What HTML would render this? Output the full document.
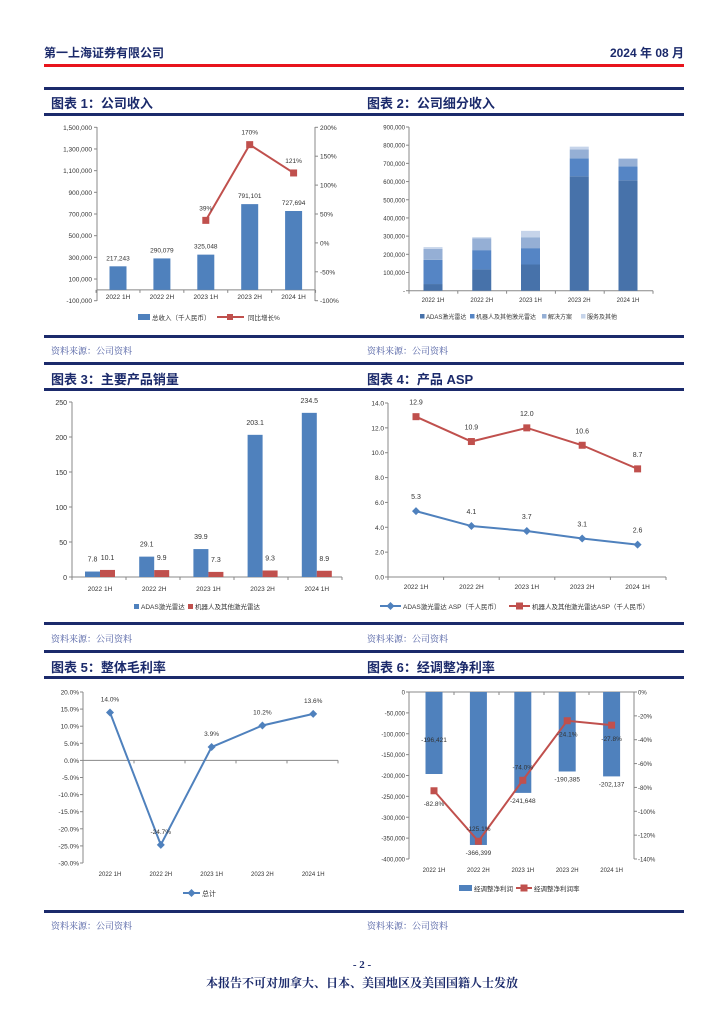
<!DOCTYPE html>
<html><head><meta charset="utf-8">
<style>
body{margin:0;background:#fff;}
#page{position:relative;width:724px;height:1024px;overflow:hidden;font-family:"Liberation Sans","Noto Sans CJK SC",sans-serif;}
.abs{position:absolute;}
.hline{position:absolute;left:44px;width:640px;height:3px;background:#1b2a6b;}
.title{position:absolute;font-size:13px;font-weight:bold;color:#1b2a6b;white-space:nowrap;}
.src{position:absolute;font-size:9px;color:#4a5aa0;font-family:"Liberation Serif","Noto Serif CJK SC",serif;}
svg text{font-family:"Liberation Sans","Noto Sans CJK SC",sans-serif;}
</style></head>
<body>
<div id="page">
<div class="abs" style="left:44px;top:44px;font-size:12px;font-weight:bold;color:#1b2a6b">第一上海证券有限公司</div>
<div class="abs" style="right:40px;top:44px;font-size:12px;font-weight:bold;color:#1b2a6b">2024 年 08 月</div>
<div class="abs" style="left:44px;top:64px;width:640px;height:3px;background:#e8141c"></div>

<div class="hline" style="top:87px"></div>
<div class="title" style="left:51px;top:93px">图表 1：公司收入</div>
<div class="title" style="left:367px;top:93px">图表 2：公司细分收入</div>
<div class="hline" style="top:113px"></div>
<div class="hline" style="top:335px"></div>
<div class="src" style="left:51px;top:344px">资料来源：公司资料</div>
<div class="src" style="left:367px;top:344px">资料来源：公司资料</div>

<div class="hline" style="top:362px"></div>
<div class="title" style="left:51px;top:369px">图表 3：主要产品销量</div>
<div class="title" style="left:367px;top:369px">图表 4：产品 ASP</div>
<div class="hline" style="top:388px"></div>
<div class="hline" style="top:622px"></div>
<div class="src" style="left:51px;top:632px">资料来源：公司资料</div>
<div class="src" style="left:367px;top:632px">资料来源：公司资料</div>

<div class="hline" style="top:650px"></div>
<div class="title" style="left:51px;top:657px">图表 5：整体毛利率</div>
<div class="title" style="left:367px;top:657px">图表 6：经调整净利率</div>
<div class="hline" style="top:676px"></div>
<div class="hline" style="top:910px"></div>
<div class="src" style="left:51px;top:919px">资料来源：公司资料</div>
<div class="src" style="left:367px;top:919px">资料来源：公司资料</div>

<div class="abs" style="left:0;width:724px;top:959px;text-align:center;font-size:11px;font-weight:bold;color:#1b2a6b;font-family:'Liberation Serif','Noto Serif CJK SC',serif">- 2 -</div>
<div class="abs" style="left:0;width:724px;top:974px;text-align:center;font-size:12px;font-weight:bold;color:#1b2a6b;font-family:'Liberation Serif','Noto Serif CJK SC',serif">本报告不可对加拿大、日本、美国地区及美国国籍人士发放</div>

<svg id="charts" class="abs" style="left:0;top:0" width="724" height="1024"></svg>
</div>

<script>
const cats = ['2022 1H','2022 2H','2023 1H','2023 2H','2024 1H'];
// chart 1
const revenue = [217243, 290079, 325048, 791101, 727694];
const revenueLabels = ['217,243','290,079','325,048','791,101','727,694'];
const revGrowth = [null, null, 39, 170, 121];
const c1LeftTicks = [-100000,100000,300000,500000,700000,900000,1100000,1300000,1500000];
const c1LeftTickLabels = ['-100,000','100,000','300,000','500,000','700,000','900,000','1,100,000','1,300,000','1,500,000'];
const c1RightTicks = [-100,-50,0,50,100,150,200];
// chart 2
const segAdas = [36600, 117000, 144000, 629000, 607000];
const segRobot = [133000, 106000, 90000, 99000, 77000];
const segSolution = [60000, 64000, 60000, 49000, 40000];
const segService = [10000, 7000, 35000, 15000, 4000];
const c2Ticks = [0,100000,200000,300000,400000,500000,600000,700000,800000,900000];
const c2TickLabels = ['-','100,000','200,000','300,000','400,000','500,000','600,000','700,000','800,000','900,000'];
// chart 3
const volAdas = [7.8, 29.1, 39.9, 203.1, 234.5];
const volRobot = [10.1, 9.9, 7.3, 9.3, 8.9];
const c3Ticks = [0,50,100,150,200,250];
// chart 4
const aspAdas = [5.3, 4.1, 3.7, 3.1, 2.6];
const aspRobot = [12.9, 10.9, 12.0, 10.6, 8.7];
const c4Ticks = [0,2,4,6,8,10,12,14];
// chart 5
const grossMargin = [14.0, -24.7, 3.9, 10.2, 13.6];
const c5Ticks = [-30,-25,-20,-15,-10,-5,0,5,10,15,20];
// chart 6
const adjProfit = [-196421, -366399, -241648, -190385, -202137];
const adjProfitLabels = ['-196,421','-366,399','-241,648','-190,385','-202,137'];
const adjMargin = [-82.8, -125.1, -74.0, -24.1, -27.8];
const c6LeftTicks = [0,-50000,-100000,-150000,-200000,-250000,-300000,-350000,-400000];
const c6RightTicks = [0,-20,-40,-60,-80,-100,-120,-140];

const NS = 'http://www.w3.org/2000/svg';
const svg = document.getElementById('charts');
function mk(tag, attrs, parent){
  const e = document.createElementNS(NS, tag);
  for (const k in attrs) e.setAttribute(k, attrs[k]);
  (parent || svg).appendChild(e);
  return e;
}
function txt(x, y, s, parent, size, anchor, fill){
  const t = mk('text', {x:x, y:y, 'font-size':size||7, 'text-anchor':anchor||'middle', fill:fill||'#333'}, parent);
  t.textContent = s;
  return t;
}
function scale(d0, d1, r0, r1){ return v => r0 + (v - d0) * (r1 - r0) / (d1 - d0); }
function fmtPct1(v){ return v.toFixed(1) + '%'; }
const BLUE = '#4f81bd', RED = '#c0504d', AXIS = '#888';

// ---------- Chart 1 ----------
(function(){
  const g = mk('g', {});
  
  
  const y = scale(-100000, 1500000, 300.7, 127.3);
  const yr = scale(-100, 200, 300.7, 127.3);
  const x = i => 118 + i * 43.9;
  const L = 97, R = 315;
  mk('line', {x1:L, y1:127, x2:L, y2:301, stroke:AXIS}, g);
  mk('line', {x1:R, y1:127, x2:R, y2:301, stroke:AXIS}, g);
  mk('line', {x1:L, y1:y(0), x2:R, y2:y(0), stroke:AXIS}, g);
  c1LeftTicks.forEach((t, i) => {
    mk('line', {x1:L-3, y1:y(t), x2:L, y2:y(t), stroke:AXIS}, g);
    const lab = txt(L-5, y(t)+2.5, c1LeftTickLabels[i], g, 6.5, 'end');
    
    
  });
  c1RightTicks.forEach(t => {
    mk('line', {x1:R, y1:yr(t), x2:R+3, y2:yr(t), stroke:AXIS}, g);
    const lab = txt(R+5, yr(t)+2.5, t + '%', g, 6.5, 'start');
    
    
  });
  for (let i = 0; i <= 5; i++) mk('line', {x1:x(i)-21.95, y1:y(0), x2:x(i)-21.95, y2:y(0)+3, stroke:AXIS}, g);
  revenue.forEach((v, i) => {
    const b = mk('rect', {x:x(i)-8.5, y:y(v), width:17, height:y(0)-y(v), fill:BLUE}, g);
    
    
    txt(x(i), y(v)-6, revenueLabels[i], g, 6.5);
    const cl = txt(x(i), 299, cats[i], g, 6.5);
    
    
  });
  let pts = [];
  revGrowth.forEach((v, i) => { if (v !== null) pts.push([x(i), yr(v), v]); });
  const pl = mk('polyline', {points:pts.map(p => p[0]+','+p[1]).join(' '), fill:'none', stroke:RED, 'stroke-width':2}, g);
  
  
  pts.forEach(p => {
    const m = mk('rect', {x:p[0]-3.5, y:p[1]-3.5, width:7, height:7, fill:RED}, g);
    
    
    txt(p[0], p[1]-10, p[2] + '%', g, 6.5);
  });
  const lg = mk('g', {}, g);
  
  
  mk('rect', {x:138, y:314, width:12, height:6, fill:BLUE}, lg);
  txt(152, 320, '总收入（千人民币）', lg, 6.5, 'start');
  mk('line', {x1:217, y1:317, x2:244, y2:317, stroke:RED, 'stroke-width':2}, lg);
  mk('rect', {x:227, y:314, width:6, height:6, fill:RED}, lg);
  txt(248, 320, '同比增长%', lg, 6.5, 'start');
})();

// ---------- Chart 2 ----------
(function(){
  const g = mk('g', {});
  
  
  const y = scale(0, 900000, 290.7, 127);
  const x = i => 433 + i * 48.75;
  const L = 409, R = 653;
  mk('line', {x1:L, y1:127, x2:L, y2:291, stroke:AXIS}, g);
  mk('line', {x1:L, y1:y(0), x2:R, y2:y(0), stroke:AXIS}, g);
  c2Ticks.forEach((t, i) => {
    mk('line', {x1:L-3, y1:y(t), x2:L, y2:y(t), stroke:AXIS}, g);
    const lab = txt(L-4, y(t)+2.5, c2TickLabels[i], g, 6, 'end');
    
    
  });
  for (let i = 0; i <= 5; i++) mk('line', {x1:L+i*48.8, y1:y(0), x2:L+i*48.8, y2:y(0)+3, stroke:AXIS}, g);
  const series = [segAdas, segRobot, segSolution, segService];
  const colors = ['#4772aa', '#5585c5', '#95afd5', '#c6d4ea'];
  const names = ['ADAS激光雷达', '机器人及其他激光雷达', '解决方案', '服务及其他'];
  cats.forEach((c, i) => {
    let base = 0;
    series.forEach((s, k) => {
      const r = mk('rect', {x:x(i)-9.5, y:y(base + s[i]), width:19, height:y(base)-y(base + s[i]), fill:colors[k]}, g);
      
      
      base += s[i];
    });
    const cl = txt(x(i), 302, c, g, 6);
    
    
  });
  const lg = mk('g', {}, g);
  
  
  const lx = [420, 470, 542, 581];
  names.forEach((n, k) => {
    mk('rect', {x:lx[k], y:314, width:4.5, height:4.5, fill:colors[k]}, lg);
    txt(lx[k]+6, 319, n, lg, 6, 'start');
  });
})();

// ---------- Chart 3 ----------
(function(){
  const g = mk('g', {});
  
  
  const y = scale(0, 250, 577, 402);
  const x = i => 100 + i * 54.2;
  const L = 72, R = 342;
  mk('line', {x1:L, y1:402, x2:L, y2:577, stroke:AXIS}, g);
  mk('line', {x1:L, y1:577, x2:R, y2:577, stroke:AXIS}, g);
  c3Ticks.forEach(t => {
    mk('line', {x1:L-3, y1:y(t), x2:L, y2:y(t), stroke:AXIS}, g);
    const lab = txt(L-5, y(t)+3, String(t), g, 7, 'end');
    
    
  });
  for (let i = 0; i <= 5; i++) mk('line', {x1:L+i*54, y1:577, x2:L+i*54, y2:580, stroke:AXIS}, g);
  cats.forEach((c, i) => {
    const a = mk('rect', {x:x(i)-15, y:y(volAdas[i]), width:15, height:577-y(volAdas[i]), fill:BLUE}, g);
    
    
    const r = mk('rect', {x:x(i), y:y(volRobot[i]), width:15, height:577-y(volRobot[i]), fill:RED}, g);
    
    
    txt(x(i)-7.5, y(volAdas[i])-10, volAdas[i].toFixed(1), g, 7);
    txt(x(i)+7.5, y(volRobot[i])-10, volRobot[i].toFixed(1), g, 7);
    const cl = txt(x(i), 591, c, g, 6.5);
    
    
  });
  const lg = mk('g', {}, g);
  
  
  mk('rect', {x:134, y:604, width:5, height:5, fill:BLUE}, lg);
  txt(141, 609, 'ADAS激光雷达', lg, 6.5, 'start');
  mk('rect', {x:188, y:604, width:5, height:5, fill:RED}, lg);
  txt(195, 609, '机器人及其他激光雷达', lg, 6.5, 'start');
})();

// ---------- Chart 4 ----------
(function(){
  const g = mk('g', {});
  
  
  const y = scale(0, 14, 577, 403);
  const x = i => 416 + i * 55.4;
  const L = 388, R = 666;
  mk('line', {x1:L, y1:403, x2:L, y2:577, stroke:AXIS}, g);
  mk('line', {x1:L, y1:577, x2:R, y2:577, stroke:AXIS}, g);
  c4Ticks.forEach(t => {
    mk('line', {x1:L-3, y1:y(t), x2:L, y2:y(t), stroke:AXIS}, g);
    const lab = txt(L-4, y(t)+2.5, t.toFixed(1), g, 6.5, 'end');
    
    
  });
  for (let i = 0; i <= 5; i++) mk('line', {x1:L+i*55.6, y1:577, x2:L+i*55.6, y2:580, stroke:AXIS}, g);
  cats.forEach((c, i) => {
    const cl = txt(x(i), 589, c, g, 6.5);
    
    
  });
  const bl = mk('polyline', {points:aspAdas.map((v, i) => x(i)+','+y(v)).join(' '), fill:'none', stroke:BLUE, 'stroke-width':2}, g);
  
  
  const rl = mk('polyline', {points:aspRobot.map((v, i) => x(i)+','+y(v)).join(' '), fill:'none', stroke:RED, 'stroke-width':2}, g);
  
  
  aspAdas.forEach((v, i) => {
    const m = mk('path', {d:'M'+x(i)+','+(y(v)-4)+' l4,4 l-4,4 l-4,-4 z', fill:BLUE}, g);
    
    
    txt(x(i), y(v)-12, v.toFixed(1), g, 7);
  });
  aspRobot.forEach((v, i) => {
    const m = mk('rect', {x:x(i)-3.5, y:y(v)-3.5, width:7, height:7, fill:RED}, g);
    
    
    txt(x(i), y(v)-12, v.toFixed(1), g, 7);
  });
  const lg = mk('g', {}, g);
  
  
  mk('line', {x1:380, y1:606, x2:401, y2:606, stroke:BLUE, 'stroke-width':2}, lg);
  mk('path', {d:'M390.5,602 l4,4 l-4,4 l-4,-4 z', fill:BLUE}, lg);
  txt(403, 609, 'ADAS激光雷达 ASP（千人民币）', lg, 6.5, 'start');
  mk('line', {x1:509, y1:606, x2:530, y2:606, stroke:RED, 'stroke-width':2}, lg);
  mk('rect', {x:516, y:602.5, width:7, height:7, fill:RED}, lg);
  txt(532, 609, '机器人及其他激光雷达ASP（千人民币）', lg, 6.5, 'start');
})();

// ---------- Chart 5 ----------
(function(){
  const g = mk('g', {});
  
  
  const y = scale(-30, 20, 863, 692);
  const x = i => 110 + i * 50.8;
  const L = 83, R = 338;
  mk('line', {x1:L, y1:692, x2:L, y2:863, stroke:AXIS}, g);
  mk('line', {x1:L, y1:y(0), x2:R, y2:y(0), stroke:AXIS}, g);
  c5Ticks.forEach(t => {
    mk('line', {x1:L-3, y1:y(t), x2:L, y2:y(t), stroke:AXIS}, g);
    const lab = txt(L-4, y(t)+2.5, t.toFixed(1) + '%', g, 6.5, 'end');
    
    
  });
  for (let i = 0; i <= 5; i++) mk('line', {x1:L+i*51, y1:y(0), x2:L+i*51, y2:y(0)+3, stroke:AXIS}, g);
  cats.forEach((c, i) => {
    const cl = txt(x(i), 876, c, g, 6);
    
    
  });
  const pl = mk('polyline', {points:grossMargin.map((v, i) => x(i)+','+y(v)).join(' '), fill:'none', stroke:BLUE, 'stroke-width':2}, g);
  
  
  grossMargin.forEach((v, i) => {
    const m = mk('path', {d:'M'+x(i)+','+(y(v)-4)+' l4,4 l-4,4 l-4,-4 z', fill:BLUE}, g);
    
    
    txt(x(i), y(v) - 11, fmtPct1(v), g, 6.5);
  });
  const lg = mk('g', {}, g);
  
  
  mk('line', {x1:183, y1:893, x2:200, y2:893, stroke:BLUE, 'stroke-width':2}, lg);
  mk('path', {d:'M191.5,889 l4,4 l-4,4 l-4,-4 z', fill:BLUE}, lg);
  txt(202, 896, '总计', lg, 7, 'start');
})();

// ---------- Chart 6 ----------
(function(){
  const g = mk('g', {});
  
  
  const y = scale(0, -400000, 692, 859);
  const yr = scale(0, -140, 692, 859);
  const x = i => 434 + i * 44.4;
  const L = 409, R = 634;
  mk('line', {x1:L, y1:692, x2:L, y2:859, stroke:AXIS}, g);
  mk('line', {x1:R, y1:692, x2:R, y2:859, stroke:AXIS}, g);
  mk('line', {x1:L, y1:692, x2:R, y2:692, stroke:AXIS}, g);
  c6LeftTicks.forEach(t => {
    mk('line', {x1:L-3, y1:y(t), x2:L, y2:y(t), stroke:AXIS}, g);
    const lab = txt(L-4, y(t)+2.5, t === 0 ? '0' : t.toLocaleString('en-US'), g, 6, 'end');
    
    
  });
  c6RightTicks.forEach(t => {
    mk('line', {x1:R, y1:yr(t), x2:R+3, y2:yr(t), stroke:AXIS}, g);
    const lab = txt(R+4, yr(t)+2.5, t + '%', g, 6, 'start');
    
    
  });
  for (let i = 0; i <= 5; i++) mk('line', {x1:L+i*45, y1:692, x2:L+i*45, y2:695, stroke:AXIS}, g);
  const barLabelDy = [-32, 10, 10, 10, 10];
  adjProfit.forEach((v, i) => {
    const b = mk('rect', {x:x(i)-8.5, y:692, width:17, height:y(v)-692, fill:BLUE}, g);
    
    
    txt(x(i), y(v)+barLabelDy[i], adjProfitLabels[i], g, 6.5);
    const cl = txt(x(i), 872, cats[i], g, 6);
    
    
  });
  const pl = mk('polyline', {points:adjMargin.map((v, i) => x(i)+','+yr(v)).join(' '), fill:'none', stroke:RED, 'stroke-width':2}, g);
  
  
  const pctDy = [15, -10, -11, 16, 16];
  adjMargin.forEach((v, i) => {
    const m = mk('rect', {x:x(i)-3.5, y:yr(v)-3.5, width:7, height:7, fill:RED}, g);
    
    
    txt(x(i), yr(v)+pctDy[i], fmtPct1(v), g, 6.5);
  });
  const lg = mk('g', {}, g);
  
  
  mk('rect', {x:459, y:885, width:13, height:6, fill:BLUE}, lg);
  txt(474, 891, '经调整净利润', lg, 6.5, 'start');
  mk('line', {x1:516, y1:888, x2:532, y2:888, stroke:RED, 'stroke-width':2}, lg);
  mk('rect', {x:520.5, y:884.5, width:7, height:7, fill:RED}, lg);
  txt(534, 891, '经调整净利润率', lg, 6.5, 'start');
})();
</script>
</body></html>
